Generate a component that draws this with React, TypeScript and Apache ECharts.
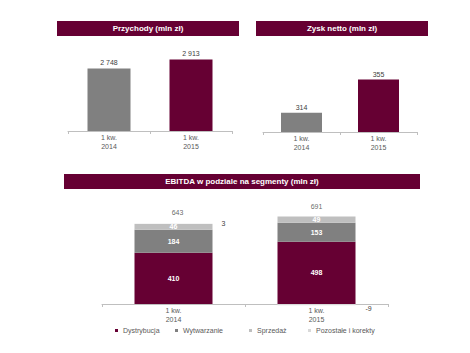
import React, { useEffect, useRef } from "react";
import * as echarts from "echarts";

const MAROON = "#660033";
const GRAY = "#808080";
const LIGHT = "#BFBFBF";
const LIGHTER = "#D9D9D9";
const TXT = "#404040";
const AXTXT = "#595959";

const categories = ["1 kw.\n2014", "1 kw.\n2015"];
const revenue = [2748, 2913];
const netProfit = [314, 355];
const segDystrybucja = [410, 498];
const segWytwarzanie = [184, 153];
const segSprzedaz = [46, 49];
const segPozostale = [3, -9];
const ebitdaTotal = [643, 691];
const segmentNames = ["Dystrybucja", "Wytwarzanie", "Sprzedaż", "Pozostałe i korekty"];
const titles = ["Przychody (mln zł)", "Zysk netto (mln zł)", "EBITDA w podziale na segmenty (mln zł)"];

const FONT = "Liberation Sans, Arial, sans-serif";
const FS = 7;

const fmt = (v: number) => String(v).replace(/\B(?=(\d{3})+(?!\d))/g, " ");

export default function App() {
  const ref = useRef<HTMLDivElement>(null);
  useEffect(() => {
    if (!ref.current) return;
    const chart = echarts.init(ref.current, undefined, { renderer: "svg" });

    const xAxisBase = (gridIndex: number, margin: number) => ({
      type: "category" as const,
      gridIndex,
      data: categories,
      axisLine: { show: true, onZero: true, lineStyle: { color: LIGHT, width: 1 } },
      axisTick: { show: true, length: 3, lineStyle: { color: LIGHT } },
      axisLabel: { color: AXTXT, fontSize: FS, lineHeight: 9, margin, fontFamily: FONT },
    });
    const yAxisBase = (gridIndex: number, min: number, max: number) => ({
      type: "value" as const,
      gridIndex,
      min,
      max,
      show: false,
      splitLine: { show: false },
    });

    const banner = (x: number, y: number, w: number, h: number, text: string) => ({
      type: "group",
      children: [
        { type: "rect", shape: { x, y, width: w, height: h }, style: { fill: MAROON } },
        {
          type: "text",
          x: x + w / 2,
          y: y + h / 2,
          style: {
            text,
            fill: "#ffffff",
            font: `bold 8px ${FONT}`,
            align: "center",
            verticalAlign: "middle",
          },
        },
      ],
    });

    const legendPos = [115, 175, 249, 308];
    const segColors = [MAROON, GRAY, LIGHT, LIGHTER];

    chart.setOption({
      animation: false,
      textStyle: { fontFamily: FONT },
      graphic: [
        banner(57, 21, 182, 15, titles[0]),
        banner(256, 21, 172, 15, titles[1]),
        banner(64, 174, 356, 15, titles[2]),
      ],
      grid: [
        { left: 68, width: 164, top: 40, height: 91 },
        { left: 263, width: 154, top: 40, height: 92 },
        { left: 102, width: 286, top: 204, height: 105 },
      ],
      xAxis: [xAxisBase(0, 2), xAxisBase(1, 2), xAxisBase(2, -3)],
      yAxis: [yAxisBase(0, 1600, 3270), yAxisBase(1, 290, 404), yAxisBase(2, -40, 800)],
      legend: segmentNames.map((name, i) => ({
        data: [name],
        left: legendPos[i],
        top: 327,
        icon: "rect",
        itemWidth: 3,
        itemHeight: 3,
        padding: 0,
        textStyle: { color: AXTXT, fontSize: FS, fontFamily: FONT },
      })),
      series: [
        {
          type: "bar",
          xAxisIndex: 0,
          yAxisIndex: 0,
          barWidth: 43,
          data: revenue.map((v, i) => ({ value: v, itemStyle: { color: i === 0 ? GRAY : MAROON } })),
          label: {
            show: true,
            position: "top",
            distance: 2,
            color: TXT,
            fontSize: FS,
            formatter: (p: any) => fmt(p.value),
          },
        },
        {
          type: "bar",
          xAxisIndex: 1,
          yAxisIndex: 1,
          barWidth: 41,
          data: netProfit.map((v, i) => ({ value: v, itemStyle: { color: i === 0 ? GRAY : MAROON } })),
          label: { show: true, position: "top", distance: 2, color: TXT, fontSize: FS },
        },
        ...[segDystrybucja, segWytwarzanie, segSprzedaz].map((d, i) => ({
          type: "bar",
          name: segmentNames[i],
          xAxisIndex: 2,
          yAxisIndex: 2,
          stack: "ebitda",
          barWidth: 78,
          itemStyle: { color: segColors[i] },
          data: d,
          label: { show: true, position: "inside", color: "#ffffff", fontSize: FS, fontWeight: "bold" },
        })),
        {
          type: "bar",
          name: segmentNames[3],
          xAxisIndex: 2,
          yAxisIndex: 2,
          stack: "ebitda",
          barWidth: 78,
          itemStyle: { color: segColors[3] },
          data: segPozostale.map((v) => ({
            value: v,
            label: v < 0 ? { offset: [0, 4], distance: 10 } : { offset: [0, 0], distance: 9 },
          })),
          label: { show: true, position: "right", color: TXT, fontSize: FS },
        },
        {
          type: "scatter",
          xAxisIndex: 2,
          yAxisIndex: 2,
          symbolSize: 1,
          itemStyle: { color: "rgba(0,0,0,0)" },
          data: ebitdaTotal.map((v, i) => ({
            value: v,
            label: { offset: [i === 0 ? 4 : 0, 0] },
          })),
          label: { show: true, position: "top", distance: 7, color: TXT, fontSize: FS },
        },
      ],
    });
    return () => chart.dispose();
  }, []);
  return (
    <div
      ref={ref}
      style={{ position: "fixed", left: 0, top: 0, width: 470, height: 353, background: "#ffffff" }}
    />
  );
}
